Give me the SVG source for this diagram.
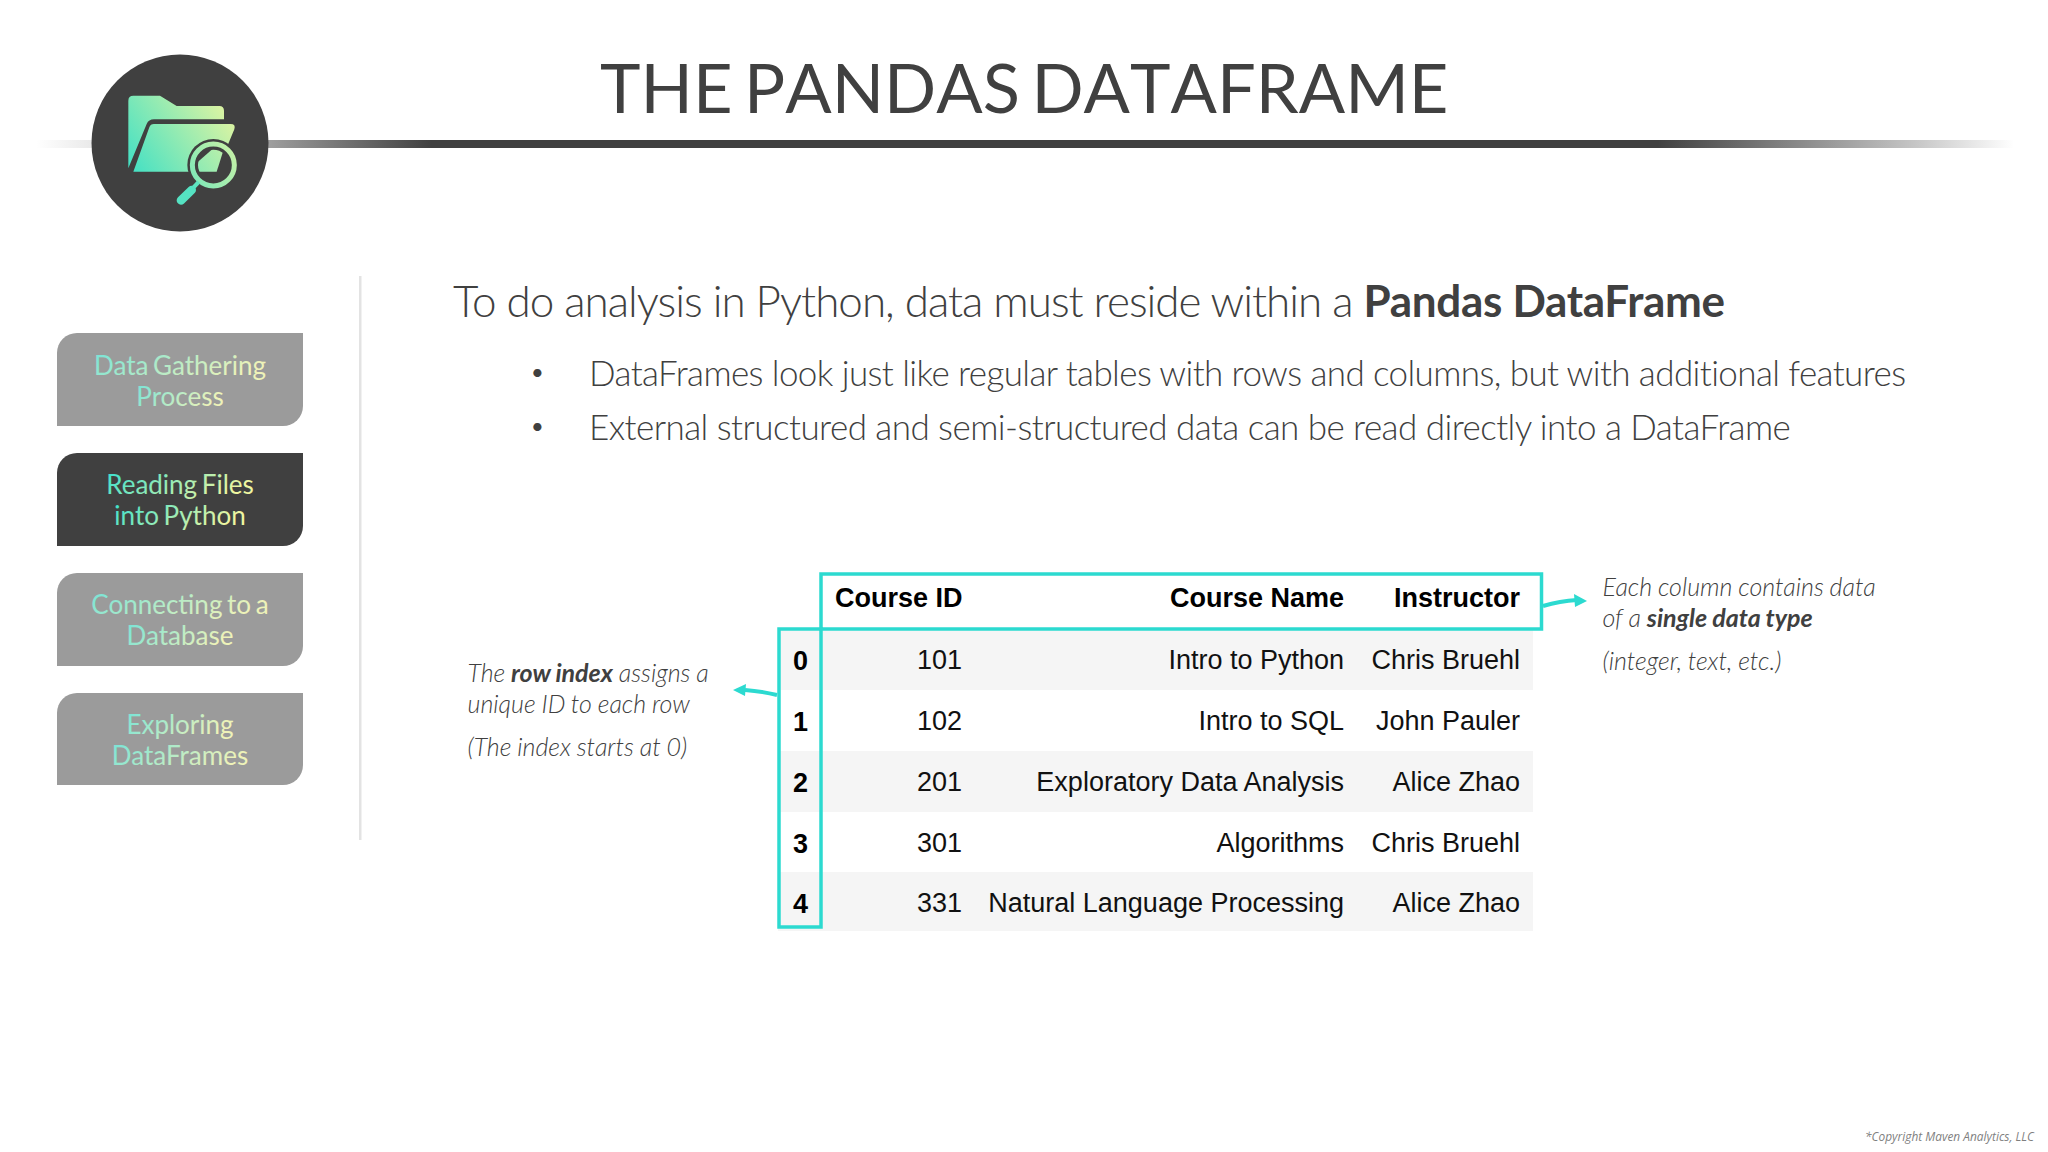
<svg xmlns="http://www.w3.org/2000/svg" width="2048" height="1152" viewBox="0 0 2048 1152">
<style>
.la{font-family:Lato,"Open Sans",sans-serif;fill:#404040}
.menu{font-family:Lato,"Open Sans",sans-serif;font-size:26px;word-spacing:-2px;text-anchor:middle}
.note{font-family:Lato,"Open Sans",sans-serif;font-size:25px;word-spacing:-0.5px;font-style:italic;font-weight:300;fill:#404040}
.note .b{font-weight:700}
.td{font-family:"Liberation Sans",Arial,sans-serif;font-size:27px;fill:#111;text-anchor:end}
.th{font-family:"Liberation Sans",Arial,sans-serif;font-size:27px;font-weight:700;fill:#000;text-anchor:end}
.idx{font-family:"Liberation Sans",Arial,sans-serif;font-size:27px;font-weight:700;fill:#000;text-anchor:middle}
.box{fill:none;stroke:#2cdad0;stroke-width:3.5}
.conn{fill:none;stroke:#2cdad0;stroke-width:4}
.tip{fill:#2cdad0}
.stripe{fill:#f5f5f5}
</style>
<defs>
<linearGradient id="rule" gradientUnits="userSpaceOnUse" x1="36" y1="0" x2="2014" y2="0">
<stop offset="0" stop-color="#404040" stop-opacity="0"/>
<stop offset="0.1" stop-color="#404040" stop-opacity="0.4"/>
<stop offset="0.2" stop-color="#404040"/>
<stop offset="0.82" stop-color="#404040"/>
<stop offset="0.95" stop-color="#404040" stop-opacity="0.3"/>
<stop offset="1" stop-color="#404040" stop-opacity="0"/>
</linearGradient>
<linearGradient id="ico" gradientUnits="userSpaceOnUse" x1="385" y1="425" x2="690" y2="215">
<stop offset="0" stop-color="#3fe0c5"/>
<stop offset="1" stop-color="#e6f5a0"/>
</linearGradient>
<linearGradient id="tBright" x1="0" y1="0" x2="1" y2="0.3">
<stop offset="0" stop-color="#35dfd0"/>
<stop offset="1" stop-color="#f0f5a0"/>
</linearGradient>
<linearGradient id="tDim" x1="0" y1="0" x2="1" y2="0.3">
<stop offset="0" stop-color="#74e3d8"/>
<stop offset="1" stop-color="#eef2b8"/>
</linearGradient>
<clipPath id="lens"><circle cx="640" cy="405" r="46"/></clipPath>
</defs>
<rect width="2048" height="1152" fill="#fff"/>
<rect x="36" y="140" width="1978" height="8" fill="url(#rule)"/>
<text class="la" x="600" y="113" font-size="68.6" style="font-kerning:none" word-spacing="-6">THE PANDAS DATAFRAME</text>

<g id="logo">
<circle cx="180" cy="143" r="88.5" fill="#404040"/>
<g transform="translate(0,30) scale(0.33333)">
<path fill="url(#ico)" d="M385 212Q385 197 400 197H480L530 228H658Q672 228 672 242V268H462Q446 268 440 282L385 415Z"/>
<path fill="url(#ico)" d="M462 282H692Q708 282 703 298L650 425H400L448 292Q451 282 462 282Z"/>
<circle cx="640" cy="405" r="78" fill="#404040"/>
<circle cx="640" cy="405" r="63" fill="none" stroke="url(#ico)" stroke-width="15"/>
<path clip-path="url(#lens)" fill="url(#ico)" d="M560 425L680 320L680 330L650 425Z"/>
<path fill="none" stroke="#5fe3c0" stroke-width="12" d="M596 456L575 478"/>
<path fill="none" stroke="#55e2c2" stroke-width="26" stroke-linecap="round" d="M575 480L543 511"/>
</g>
</g>

<rect x="359" y="276" width="2.5" height="564" fill="#e3e3e3"/>

<g id="nav-1">
<path fill="#9b9b9b" d="M77 333H303V406A20 20 0 0 1 283 426H57V353A20 20 0 0 1 77 333Z"/>
<text class="menu" x="180" y="375" fill="url(#tDim)">Data Gathering</text>
<text class="menu" x="180" y="406" fill="url(#tDim)">Process</text>
</g>
<g id="nav-2">
<path fill="#404040" d="M77 453H303V526A20 20 0 0 1 283 546H57V473A20 20 0 0 1 77 453Z"/>
<text class="menu" x="180" y="494" fill="url(#tBright)">Reading Files</text>
<text class="menu" x="180" y="525" fill="url(#tBright)">into Python</text>
</g>
<g id="nav-3">
<path fill="#9b9b9b" d="M77 573H303V646A20 20 0 0 1 283 666H57V593A20 20 0 0 1 77 573Z"/>
<text class="menu" x="180" y="614" fill="url(#tDim)">Connecting to a</text>
<text class="menu" x="180" y="645" fill="url(#tDim)">Database</text>
</g>
<g id="nav-4">
<path fill="#9b9b9b" d="M77 693H303V765A20 20 0 0 1 283 785H57V713A20 20 0 0 1 77 693Z"/>
<text class="menu" x="180" y="734" fill="url(#tDim)">Exploring</text>
<text class="menu" x="180" y="765" fill="url(#tDim)">DataFrames</text>
</g>

<text class="la" x="453" y="317" font-size="44" font-weight="300" letter-spacing="-1">To do analysis in Python, data must reside within a <tspan font-weight="700" letter-spacing="-0.3">Pandas DataFrame</tspan></text>
<g class="la" font-size="35" font-weight="300" letter-spacing="-0.6">
<text x="537" y="380" font-size="22" font-weight="400" text-anchor="middle">•</text>
<text x="589" y="386">DataFrames look just like regular tables with rows and columns, but with additional features</text>
<text x="537" y="434" font-size="22" font-weight="400" text-anchor="middle">•</text>
<text x="589" y="440" letter-spacing="-0.55">External structured and semi-structured data can be read directly into a DataFrame</text>
</g>

<g id="table">
<rect class="stripe" x="778" y="629" width="755" height="61"/>
<rect class="stripe" x="778" y="751" width="755" height="61"/>
<rect class="stripe" x="778" y="872" width="755" height="59"/>
<text class="th" x="962.5" y="607">Course ID</text>
<text class="th" x="1344" y="607">Course Name</text>
<text class="th" x="1520" y="607">Instructor</text>
<text class="idx" x="800.5" y="670">0</text>
<text class="td" x="962" y="669">101</text>
<text class="td" x="1344" y="669">Intro to Python</text>
<text class="td" x="1520" y="669">Chris Bruehl</text>
<text class="idx" x="800.5" y="731">1</text>
<text class="td" x="962" y="730">102</text>
<text class="td" x="1344" y="730">Intro to SQL</text>
<text class="td" x="1520" y="730">John Pauler</text>
<text class="idx" x="800.5" y="792">2</text>
<text class="td" x="962" y="791">201</text>
<text class="td" x="1344" y="791">Exploratory Data Analysis</text>
<text class="td" x="1520" y="791">Alice Zhao</text>
<text class="idx" x="800.5" y="853">3</text>
<text class="td" x="962" y="852">301</text>
<text class="td" x="1344" y="852">Algorithms</text>
<text class="td" x="1520" y="852">Chris Bruehl</text>
<text class="idx" x="800.5" y="913">4</text>
<text class="td" x="962" y="912">331</text>
<text class="td" x="1344" y="912">Natural Language Processing</text>
<text class="td" x="1520" y="912">Alice Zhao</text>
</g>

<g id="highlight-columns"><rect class="box" x="821" y="574" width="720.5" height="55"/></g>
<g id="highlight-index"><rect class="box" x="779" y="629" width="42" height="298"/></g>

<g id="connectors">
<path class="conn" d="M777 695Q760 691 745 690"/>
<path class="tip" d="M733 690L746 684L745 696Z"/>
<path class="conn" d="M1543 606Q1560 601 1577 600"/>
<path class="tip" d="M1587 601L1574 594L1575 607Z"/>
</g>

<g id="note-left" class="note">
<text x="467.5" y="682">The <tspan class="b">row index</tspan> assigns a</text>
<text x="467.5" y="713">unique ID to each row</text>
<text x="467.5" y="756">(The index starts at 0)</text>
</g>
<g id="note-right" class="note">
<text x="1602.5" y="596">Each column contains data</text>
<text x="1602.5" y="627">of a <tspan class="b">single data type</tspan></text>
<text x="1602.5" y="670">(integer, text, etc.)</text>
</g>
<text x="1865" y="1141" font-family="'Open Sans',sans-serif" font-style="italic" font-size="11.9" fill="#7f7f7f">*Copyright Maven Analytics, LLC</text>
</svg>
